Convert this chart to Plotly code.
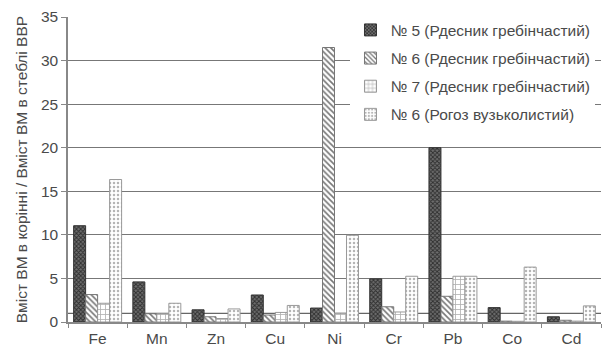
import plotly.graph_objects as go

categories = ["Fe", "Mn", "Zn", "Cu", "Ni", "Cr", "Pb", "Co", "Cd"]
s5_rdesnyk = [11.05, 4.6, 1.4, 3.1, 1.6, 4.95, 20.0, 1.65, 0.6]
s6_rdesnyk = [3.15, 0.95, 0.6, 0.8, 31.5, 1.75, 2.95, 0.1, 0.2]
s7_rdesnyk = [2.15, 0.95, 0.4, 1.1, 1.0, 1.15, 5.25, 0.08, 0.1]
s6_rogoz = [16.35, 2.15, 1.5, 1.9, 9.95, 5.25, 5.25, 6.3, 1.85]
series_names = ["№ 5 (Рдесник гребінчастий)", "№ 6 (Рдесник гребінчастий)",
                "№ 7 (Рдесник гребінчастий)", "№ 6 (Рогоз вузьколистий)"]
reference_level = 1
y_ticks = [0, 5, 10, 15, 20, 25, 30, 35]

styles = [
    dict(bg="#6e6e6e", fg="#2e2e2e", shape="x", size=3, line="#333333", sol=0.5),
    dict(bg="#ffffff", fg="#777777", shape="\\", size=4, line="#777777", sol=0.4),
    dict(bg="#ffffff", fg="#b0b0b0", shape="+", size=5, line="#999999", sol=0.3),
    dict(bg="#ffffff", fg="#b5b5b5", shape=".", size=4, line="#999999", sol=0.3),
]

fig = go.Figure()
for i, (name, vals) in enumerate(zip(series_names, [s5_rdesnyk, s6_rdesnyk, s7_rdesnyk, s6_rogoz])):
    st = styles[i]
    fig.add_trace(go.Bar(
        x=categories, y=vals, name=name, legendgroup=f"g{i}",
        marker=dict(color=st["bg"], line=dict(color=st["line"], width=1),
                    pattern=dict(shape=st["shape"], fgcolor=st["fg"], bgcolor=st["bg"],
                                 size=st["size"], solidity=st["sol"], fillmode="replace")),
    ))

fig.add_hline(y=reference_level, line=dict(color="#666666", width=1.2), layer="below")

font_family = "Liberation Sans, Arial, sans-serif"
fs = 15.5
fig.update_layout(
    width=603, height=349,
    margin=dict(l=68, r=2, t=17, b=27, autoexpand=False),
    paper_bgcolor="white", plot_bgcolor="white",
    barmode="group", bargap=0.19, bargroupgap=0,
    font=dict(family=font_family, size=fs, color="#4a4a4a"),
    showlegend=True,
    legend=dict(x=0.53, y=1.012, xanchor="left", yanchor="top",
                bgcolor="white", font=dict(size=fs, color="#4a4a4a"),
                traceorder="grouped", tracegroupgap=5,
                itemwidth=30, borderwidth=0),
    yaxis=dict(range=[0, 35], tickvals=y_ticks, showgrid=True, automargin=False,
               gridcolor="#777777", gridwidth=1.2, zeroline=False,
               showline=True, linecolor="#888888", linewidth=1.5,
               ticks="outside", ticklen=5, tickcolor="#888888",
               tickfont=dict(size=fs),
               title=dict(text="Вміст ВМ в корінні / Вміст ВМ в стеблі ВВР",
                          font=dict(size=fs, color="#4a4a4a"), standoff=9)),
    xaxis=dict(showline=True, linecolor="#888888", linewidth=1.5, automargin=False,
               ticks="outside", tickson="boundaries", ticklen=4, tickcolor="#888888",
               ticklabelstandoff=2, tickfont=dict(size=fs),
               showgrid=False),
)

fig.write_html("out.html", config={"displayModeBar": False},
               post_script="document.body.style.margin='0';document.body.style.padding='0';")
